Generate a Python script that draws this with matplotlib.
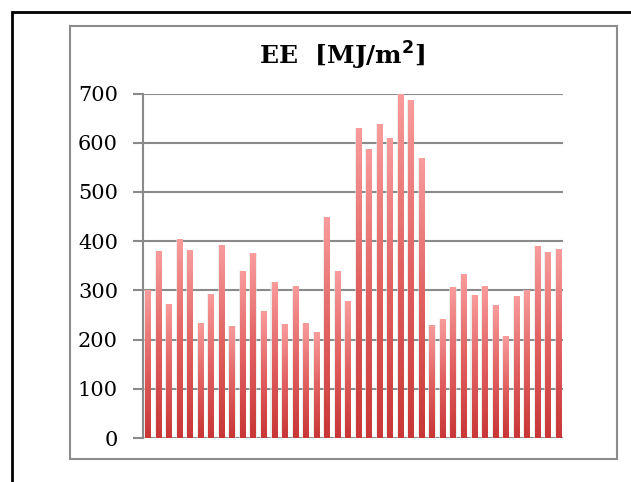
import numpy as np
import matplotlib
matplotlib.use('Agg')
import matplotlib.pyplot as plt
from matplotlib.colors import LinearSegmentedColormap
from matplotlib.patches import Rectangle

# bar heights, left to right
values = [300, 380, 273, 405, 383, 234, 293, 393, 228, 340,
          376, 258, 317, 231, 309, 234, 215, 449, 339, 278,
          630, 588, 638, 609, 698, 686, 569, 230, 242, 307,
          334, 290, 309, 270, 208, 288, 301, 391, 378, 384]
yticks = [0, 100, 200, 300, 400, 500, 600, 700]
title = 'EE  [MJ/m$^\\mathbf{2}$]'

W, H = 631, 482
fig = plt.figure(figsize=(W / 100, H / 100), dpi=100)

# outer black frame and the grey chart box
fig.patches.append(Rectangle((12 / W, -0.1), 1.1, 1 - 12 / H + 0.1, transform=fig.transFigure,
                             fill=False, edgecolor='black', linewidth=2))
fig.patches.append(Rectangle((70 / W, 1 - 459 / H), (617 - 70) / W, (459 - 26) / H,
                             transform=fig.transFigure, fill=False, edgecolor='#8c8c8c', linewidth=1.5))

ax = fig.add_axes([143 / W, 1 - 438 / H, (563 - 143) / W, (438 - 93.5) / H])

x = np.arange(len(values))
cmap = LinearSegmentedColormap.from_list('bar', ['#c93636', '#e26262', '#f99c9c'])
grad = np.linspace(0, 1, 256).reshape(-1, 1)
bw = 0.48
bars = ax.bar(x, values, width=bw, color='none', edgecolor='none', zorder=3)
for b in bars:
    x0, w, h = b.get_x(), b.get_width(), b.get_height()
    # soft shadow
    ax.add_patch(Rectangle((x0 - 0.1, 0), w + 0.2, h, facecolor='#e2e2e2',
                           edgecolor='none', alpha=0.6, zorder=2))
    im = ax.imshow(grad, cmap=cmap, origin='lower', aspect='auto',
                   extent=(x0, x0 + w, 0, h), zorder=3, interpolation='bilinear')
    im.set_clip_path(b)

ax.set_xlim(-0.45, len(values) - 0.55)
ax.set_ylim(0, 700)
ax.set_yticks(yticks)
ax.set_xticks([])
ax.yaxis.grid(True, color='#8a8a8a', linewidth=1.5, zorder=1)
ax.set_axisbelow(True)
for s in ['top', 'right', 'bottom']:
    ax.spines[s].set_visible(False)
ax.spines['left'].set_color('#8a8a8a')
ax.spines['left'].set_linewidth(1.5)
ax.tick_params(axis='y', length=7, width=1.5, color='#8a8a8a', pad=11,
               labelsize=15, labelfontfamily='DejaVu Serif')

fig.text(342 / W, 1 - 56 / H, title, ha='center', va='center', fontsize=18,
         fontweight='bold', family='DejaVu Serif')

fig.savefig('out.png', dpi=100)
